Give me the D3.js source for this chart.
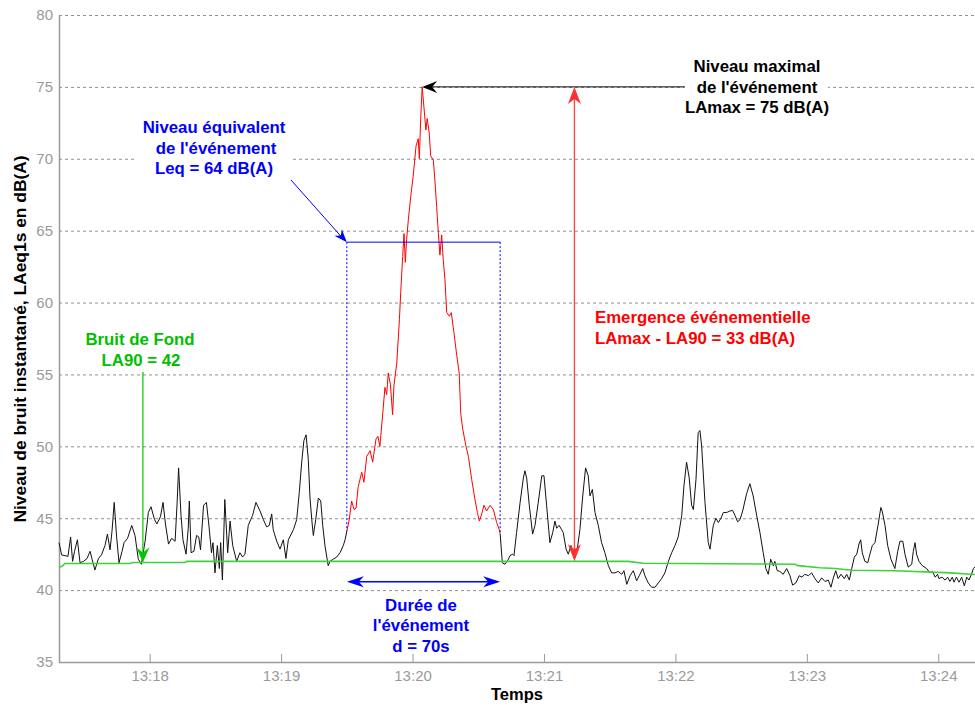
<!DOCTYPE html>
<html>
<head>
<meta charset="utf-8">
<script src="https://cdn.jsdelivr.net/npm/d3@7"></script>
<style>
  html, body { margin: 0; padding: 0; background: #fff; }
  svg { display: block; font-family: "Liberation Sans", Arial, sans-serif; }
</style>
</head>
<body>
<svg id="chart" width="975" height="707"></svg>
<script>
// Instantaneous level LAeq,1s: time of each reading (seconds after 13:17:00) and level in dB(A)
const seconds = [
  18.6,19.8,21.3,22.7,23.9,24.8,25.7,27.0,28.2,29.8,31.4,32.8,33.7,35.0,36.6,38.0,39.6,40.7,41.9,42.8,
  43.8,44.9,46.0,47.4,48.3,49.9,51.8,53.3,54.8,56.2,57.9,59.4,60.6,62.2,63.3,64.9,66.1,67.2,68.6,70.0,
  71.6,72.5,73.2,74.3,75.2,76.6,77.6,78.1,78.9,80.2,81.4,82.4,83.2,84.6,85.9,87.1,88.2,88.9,89.8,90.9,
  91.8,92.4,93.2,94.3,95.6,96.7,97.9,
  99.7,101.2,102.4,103.5,105.0,106.1,107.0,108.5,110.4,111.9,113.4,114.6,115.7,116.4,118.0,119.5,121.0,
  122.2,123.3,125.6,127.1,128.3,129.4,130.4,131.4,132.4,133.2,134.0,134.7,135.8,137.0,138.1,139.0,140.0,
  141.5,142.3,143.8,145.4,146.9,148.4,149.2,150.0,
  151.1,152.2,153.3,154.2,155.2,156.8,157.8,159.1,160.6,161.8,163.3,164.2,165.1,166.4,167.4,168.2,168.9,
  169.9,170.9,171.5,172.8,174.0,174.6,175.5,176.1,176.7,177.3,178.1,179.2,180.3,181.6,182.6,183.1,183.7,
  184.4,185.2,186.1,186.7,187.6,188.3,189.5,190.2,191.0,191.8,192.5,193.3,194.0,194.8,195.6,196.8,197.7,
  198.9,200.2,201.3,202.0,202.9,204.4,205.5,207.0,208.5,209.6,210.5,211.6,212.6,213.8,215.4,216.9,218.4,
  219.6,220.0,
  221.0,222.2,223.6,224.5,225.7,226.3,227.5,229.1,230.6,231.3,232.1,233.3,234.8,235.9,237.4,239.0,240.0,
  241.2,242.7,244.0,245.0,245.8,246.9,248.1,248.8,250.1,251.1,252.3,253.4,255.2,256.4,257.7,259.0,260.2,
  261.0,262.1,263.3,264.8,266.3,267.8,269.4,270.9,272.4,273.9,275.5,276.5,277.8,279.3,280.8,282.3,283.5,
  285.1,286.1,287.6,289.2,290.7,292.2,293.7,295.2,296.8,298.3,299.8,301.3,302.9,303.9,305.1,306.3,307.4,
  308.2,309.4,310.4,311.2,312.0,313.5,315.0,315.8,317.3,318.5,319.6,320.8,321.9,323.4,324.9,326.1,327.2,
  328.4,329.5,330.7,332.5,334.0,335.5,337.1,338.6,340.1,341.3,342.4,343.5,344.7,345.4,346.5,347.7,349.2,
  350.8,352.3,353.5,355.0,356.5,357.8,359.1,360.7,362.2,363.7,365.2,366.8,368.3,369.8,371.0,372.1,373.2,
  374.3,375.6,377.1,378.2,379.4,380.5,381.7,382.8,383.8,384.6,385.3,386.5,387.8,388.8,389.9,391.1,392.6,
  393.8,394.4,395.7,396.9,398.4,400.2,401.5,402.5,403.8,404.8,406.3,407.9,408.6,409.4,410.1,411.2,412.7,
  414.7,416.2,417.3,418.6,419.7,420.3,421.7,423.1,424.3,425.3,426.4,427.2,428.3,429.5,430.7,431.9,433.0,
  434.0,435.2,436.0,436.8
];
const levels = [
  43.3,42.45,42.4,42.35,43.7,42.0,42.7,43.5,41.9,42.0,42.2,42.7,42.15,41.4,42.2,42.45,43.1,43.9,42.8,44.1,
  46.1,43.7,41.9,42.7,43.3,43.6,44.5,43.8,42.15,41.8,43.4,45.4,45.8,44.9,44.6,45.1,46.1,44.6,43.2,43.6,
  43.4,46.0,48.5,45.2,43.5,42.5,44.3,46.2,42.6,42.7,43.8,43.7,42.8,45.9,46.1,44.4,42.6,43.3,41.2,43.1,
  41.5,43.3,40.7,46.3,42.6,44.8,43.1,
  42.0,42.6,42.3,42.5,44.5,44.9,45.2,46.1,45.5,44.9,44.4,44.5,45.3,44.2,43.4,42.85,43.5,
  42.2,43.5,44.2,44.9,46.8,48.9,50.4,50.8,49.1,46.4,44.9,43.8,44.9,46.4,46.2,44.5,43.1,
  41.7,42.0,42.15,42.3,42.6,43.1,43.5,44.1,
  44.9,46.2,45.6,45.7,47.2,48.2,47.5,49.3,49.7,48.9,50.5,50.7,50.0,52.3,54.1,53.6,55.1,
  54.3,52.2,54.2,55.8,58.8,60.7,63.2,64.8,62.8,64.4,65.8,67.4,68.8,70.9,71.4,70.0,72.7,
  75.0,73.6,72.0,72.8,71.8,70.2,69.9,68.5,66.7,64.8,63.3,64.7,63.0,61.6,59.3,59.05,59.3,
  57.9,56.3,55.1,52.3,51.2,50.0,49.3,47.7,46.3,45.4,44.8,45.3,45.9,45.5,45.9,45.6,44.7,
  44.2,43.9,
  41.9,41.8,42.1,42.4,42.5,42.4,44.0,46.1,47.8,48.3,47.8,45.9,43.9,44.5,46.1,47.95,47.95,
  45.9,43.3,44.0,44.8,44.3,44.5,44.2,44.0,42.85,42.5,43.1,42.5,42.85,44.2,46.55,48.5,47.95,
  46.55,47.0,45.4,44.5,43.3,42.6,41.7,41.2,41.2,41.3,41.1,41.35,40.4,41.0,41.35,40.65,41.0,
  41.5,41.0,40.5,40.2,40.2,40.5,40.8,41.2,42.0,42.6,43.1,43.7,45.2,47.25,48.9,47.8,45.9,
  45.6,47.7,50.95,51.1,50.0,46.1,43.3,42.85,44.5,45.0,44.7,45.0,45.4,45.4,45.5,45.55,45.2,
  44.75,44.9,45.5,46.7,47.4,46.55,45.2,44.0,42.6,41.5,41.1,42.15,41.7,42.0,41.35,41.3,41.1,
  41.5,41.0,40.35,40.5,41.0,40.9,41.1,41.0,41.2,40.8,40.5,40.85,40.6,40.7,40.2,40.85,41.35,
  40.8,41.1,40.8,41.1,40.7,41.5,42.3,42.5,43.2,43.5,42.6,42.0,41.9,42.5,43.1,43.3,44.6,
  45.75,45.5,44.5,43.1,42.15,41.5,42.7,43.4,43.4,42.5,41.6,41.8,42.7,43.3,42.5,42.0,41.7,
  41.5,41.2,41.3,40.9,41.1,40.8,40.9,40.7,40.9,40.6,40.9,40.55,40.9,40.55,40.9,40.3,40.9,
  40.7,41.1,41.5,41.6
];

// Background noise LA90 (seconds after 13:17:00, dB(A)), drawn as a step trace
const la90Seconds = [18.6, 20.0, 21.3, 51.0, 52.4, 76.1, 77.0, 278.4, 285.3, 354.6, 356.0, 366.0, 373.0, 380.5, 400.2, 425.8, 434.8, 438.6];
const la90Levels  = [41.6, 41.65, 41.85, 41.85, 41.92, 41.92, 42.0, 42.0, 41.87, 41.8, 41.7, 41.55, 41.5, 41.38, 41.35, 41.2, 41.1, 41.08];

// Event bounds (s after 13:17:00) and its equivalent level
const eventStart = 150;
const eventEnd = 220;
const leq = 64.2;

// Axis ticks
const yTicks = [35, 40, 45, 50, 55, 60, 65, 70, 75, 80];
const xTickLabels = ["13:18", "13:19", "13:20", "13:21", "13:22", "13:23", "13:24"];
const xDomainSeconds = [18.6, 438.6];

// Where the annotation arrows point on the time axis
const la90ArrowSecond = 56.9;
const emergenceArrowSecond = 253.9;

// ---------------------------------------------------------------------------
const base = new Date(2000, 0, 1, 13, 17, 0);
const toDate = s => new Date(base.getTime() + s * 1000);
const parseHM = d3.timeParse("%H:%M");
const hmToDate = t => { const d = parseHM(t); return new Date(2000, 0, 1, d.getHours(), d.getMinutes(), 0); };

const plotLeft = 59, plotBottom = 662, plotTop = 15, plotRight = 975;
const x = d3.scaleTime().domain(xDomainSeconds.map(toDate)).range([plotLeft, 979]);
const y = d3.scaleLinear().domain([35, 80]).range([plotBottom, plotTop]);

const svg = d3.select("#chart");

// Horizontal dashed grid
svg.append("g").selectAll("line").data(yTicks).join("line")
  .attr("x1", plotLeft).attr("x2", plotRight)
  .attr("y1", d => y(d) + 0.5).attr("y2", d => y(d) + 0.5)
  .attr("stroke", "#8f8f8f").attr("stroke-width", 1).attr("stroke-dasharray", "3,3");

// Axes
const yAxis = svg.append("g").attr("transform", `translate(${plotLeft},0)`)
  .call(d3.axisLeft(y).tickValues(yTicks).tickSize(0).tickPadding(6));
const xAxis = svg.append("g").attr("transform", `translate(0,${plotBottom})`)
  .call(d3.axisBottom(x).tickValues(xTickLabels.map(hmToDate))
    .tickFormat(d3.timeFormat("%H:%M")).tickSizeInner(-8).tickSizeOuter(0).tickPadding(8));
[yAxis, xAxis].forEach(g => {
  g.select(".domain").attr("stroke", "#9a9a9a").attr("stroke-width", 1.5);
  g.selectAll(".tick line").attr("stroke", "#9a9a9a");
  g.selectAll(".tick text").attr("fill", "#9a9a9a").style("font-size", "15px")
    .style("font-family", "'Liberation Sans', Arial, sans-serif");
});
xAxis.select(".domain").attr("d", `M${plotLeft},0.5H${plotRight}`);

// Axis titles
svg.append("text").attr("x", (plotLeft + plotRight) / 2).attr("y", 700)
  .attr("text-anchor", "middle").style("font-size", "16.5px").style("font-weight", "bold")
  .text("Temps");
svg.append("text").attr("transform", "translate(26,339) rotate(-90)")
  .attr("text-anchor", "middle").style("font-size", "17.4px").style("font-weight", "bold")
  .text("Niveau de bruit instantané, LAeq1s en dB(A)");

// Measured series: black outside the event, red during it
const pts = seconds.map((s, i) => ({ s, v: levels[i] }));
const line = d3.line().x(d => x(toDate(d.s))).y(d => y(d.v));
const before = pts.filter(d => d.s <= eventStart);
const during = pts.filter(d => d.s >= eventStart && d.s <= eventEnd);
const after = pts.filter(d => d.s >= eventEnd);
[before, after].forEach(seg => svg.append("path").datum(seg)
  .attr("d", line).attr("fill", "none").attr("stroke", "#111").attr("stroke-width", 1));
svg.append("path").datum(during).attr("d", line)
  .attr("fill", "none").attr("stroke", "#ff0000").attr("stroke-width", 1);

// LA90 step trace
const la90Pts = la90Seconds.map((s, i) => ({ s, v: la90Levels[i] }));
svg.append("path").datum(la90Pts).attr("d", line)
  .attr("fill", "none").attr("stroke", "#3fd03f").attr("stroke-width", 1.6);

const la90At = s => { const i = d3.bisectRight(la90Seconds, s) - 1; return la90Levels[Math.max(0, i)]; };
const levelAt = s => pts.find(d => d.s === s).v;

// Filled arrowhead with a notched back
function arrowHead(tip, from, color, L, W, N) {
  const dx = tip[0] - from[0], dy = tip[1] - from[1];
  const len = Math.hypot(dx, dy), ux = dx / len, uy = dy / len, nx = -uy, ny = ux;
  const bx = tip[0] - L * ux, by = tip[1] - L * uy;
  const p = [tip, [bx + W * nx, by + W * ny], [tip[0] - (L - N) * ux, tip[1] - (L - N) * uy], [bx - W * nx, by - W * ny]];
  svg.append("path").attr("d", d3.line()(p) + "Z").attr("fill", color);
}

// Leq box over the event
const xs = x(toDate(eventStart)), xe = x(toDate(eventEnd)), yl = y(leq);
svg.append("line").attr("x1", xs).attr("x2", xe).attr("y1", yl).attr("y2", yl)
  .attr("stroke", "#0000ff").attr("stroke-width", 1);
[[xs, levelAt(eventStart)], [xe, levelAt(eventEnd)]].forEach(([xx, v]) =>
  svg.append("line").attr("x1", xx).attr("x2", xx).attr("y1", yl).attr("y2", y(v))
    .attr("stroke", "#0000ff").attr("stroke-width", 1).attr("stroke-dasharray", "2,2"));

// Leq annotation (text on a white box)
svg.append("rect").attr("x", 137).attr("y", 116).attr("width", 155).attr("height", 64).attr("fill", "#fff");
const leqFrom = [291, 180];
svg.append("line").attr("x1", leqFrom[0]).attr("y1", leqFrom[1]).attr("x2", xs - 6).attr("y2", yl - 6)
  .attr("stroke", "#0000ff").attr("stroke-width", 1);
arrowHead([xs, yl], leqFrom, "#0000ff", 13, 5, 4);
const blue = svg.append("g").attr("fill", "#0000ff").style("font-size", "16.8px")
  .style("font-weight", "bold").attr("text-anchor", "middle");
blue.append("text").attr("x", 214).attr("y", 133).text("Niveau équivalent");
blue.append("text").attr("x", 216).attr("y", 153.5).text("de l'événement");
blue.append("text").attr("x", 214).attr("y", 174).text(`Leq = ${Math.round(leq)} dB(A)`);

// LAmax annotation (text on a white box)
const lamax = d3.max(levels);
const peakS = seconds[levels.indexOf(lamax)];
const xp = x(toDate(peakS)), ym = y(lamax);
svg.append("rect").attr("x", 684).attr("y", 53).attr("width", 144).attr("height", 66).attr("fill", "#fff");
svg.append("line").attr("x1", 685).attr("x2", xp + 10).attr("y1", ym).attr("y2", ym)
  .attr("stroke", "#000").attr("stroke-width", 1);
arrowHead([xp, ym], [685, ym], "#000", 15, 6, 5);
const blk = svg.append("g").attr("fill", "#000").style("font-size", "16.8px")
  .style("font-weight", "bold").attr("text-anchor", "middle");
blk.append("text").attr("x", 757).attr("y", 72).text("Niveau maximal");
blk.append("text").attr("x", 757).attr("y", 92.5).text("de l'événement");
blk.append("text").attr("x", 757).attr("y", 113).text(`LAmax = ${Math.round(lamax)} dB(A)`);

// Emergence annotation (double arrow between LA90 and LAmax)
const xr = x(toDate(emergenceArrowSecond));
const la90Here = la90At(emergenceArrowSecond);
const yb = y(la90Here);
svg.append("line").attr("x1", xr).attr("x2", xr).attr("y1", ym + 8).attr("y2", yb - 8)
  .attr("stroke", "#ff4a4a").attr("stroke-width", 1.4);
arrowHead([xr, ym], [xr, yb], "#ff3030", 17, 6.5, 5);
arrowHead([xr, yb], [xr, ym], "#ff3030", 17, 6.5, 5);
const red = svg.append("g").attr("fill", "#ff0000").style("font-size", "16.8px").style("font-weight", "bold");
red.append("text").attr("x", 595).attr("y", 323).text("Emergence événementielle");
red.append("text").attr("x", 595).attr("y", 343.5)
  .text(`LAmax - LA90 = ${Math.round(lamax - Math.round(la90Here))} dB(A)`);

// Background noise annotation
const xg = x(toDate(la90ArrowSecond));
const la90Label = la90At(la90ArrowSecond);
const yg = y(la90Label);
svg.append("line").attr("x1", xg).attr("x2", xg).attr("y1", 372).attr("y2", yg - 8)
  .attr("stroke", "#00c800").attr("stroke-width", 1.2);
arrowHead([xg, yg], [xg, 372], "#00c800", 15, 6.5, 5);
const grn = svg.append("g").attr("fill", "#00c000").style("font-size", "16.8px")
  .style("font-weight", "bold").attr("text-anchor", "middle");
grn.append("text").attr("x", 140).attr("y", 345).text("Bruit de Fond");
grn.append("text").attr("x", 141).attr("y", 366).text(`LA90 = ${Math.round(la90Label)}`);

// Event duration
const yd = 581.7;
svg.append("line").attr("x1", xs + 8).attr("x2", xe - 8).attr("y1", yd).attr("y2", yd)
  .attr("stroke", "#0000ff").attr("stroke-width", 1.6);
arrowHead([xs, yd], [xe, yd], "#0000ff", 17, 5.5, 5);
arrowHead([xe, yd], [xs, yd], "#0000ff", 17, 5.5, 5);
const dur = svg.append("g").attr("fill", "#0000ff").style("font-size", "16.8px")
  .style("font-weight", "bold").attr("text-anchor", "middle");
dur.append("text").attr("x", 421).attr("y", 610.5).text("Durée de");
dur.append("text").attr("x", 421).attr("y", 631).text("l'événement");
dur.append("text").attr("x", 421).attr("y", 651.5).text(`d = ${eventEnd - eventStart}s`);
</script>
</body>
</html>
